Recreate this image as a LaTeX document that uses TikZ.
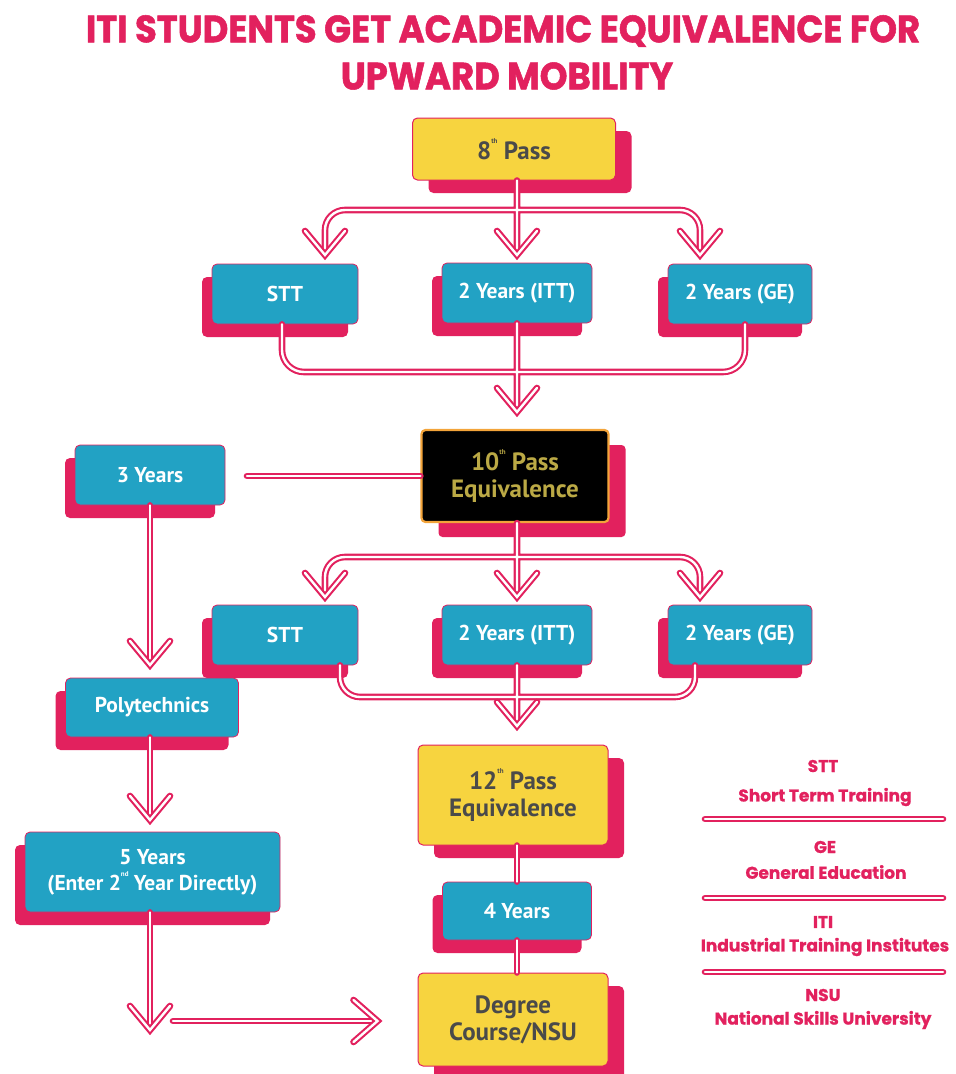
\documentclass[tikz,border=0pt]{standalone}
\usepackage{fontspec}
\usetikzlibrary{shadows,calc}
\newfontfamily\boxfont{PT Sans}
\newfontfamily\titlefont[FakeStretch=0.93,BoldFeatures={FakeBold=1.4}]{Poppins}
\newfontfamily\legfont[BoldFeatures={FakeBold=1}]{Poppins}
\definecolor{pinkc}{HTML}{E2215E}
\definecolor{tealc}{HTML}{22A2C4}
\definecolor{yellowc}{HTML}{F7D43F}
\definecolor{darkc}{HTML}{4A4A4A}
\definecolor{orangec}{HTML}{F3A43A}
\definecolor{olivec}{HTML}{BBA945}
\newcommand\sups[1]{\raisebox{0.62em}{\fontsize{7}{7}\selectfont #1}}
\newcommand\chev[1]{\draw[dbl,line join=miter] ($(#1)+(-20,-24)$) -- (#1) -- ($(#1)+(20,-24)$);}
\newcommand\chevr[1]{\draw[dbl,line join=miter] ($(#1)+(-24,-21)$) -- (#1) -- ($(#1)+(-24,21)$);}
\begin{document}
\begin{tikzpicture}[x=1pt,y=-1pt,
  dbl/.style={draw=pinkc, double=white, line width=2.1pt, double distance=2.4pt, line cap=round, line join=round},
  tbox/.style={rectangle, rounded corners=5pt, fill=tealc, draw=pinkc, line width=0.8pt,
    text=white, font=\boxfont\bfseries\fontsize{21.5}{25}\selectfont, align=center, inner sep=0pt,
    minimum height=60pt, general shadow={fill=pinkc, shadow xshift=-10pt, shadow yshift=-13pt}},
  ybox/.style={rectangle, rounded corners=5pt, fill=yellowc, draw=pinkc, line width=1pt,
    text=darkc, font=\boxfont\bfseries\fontsize{25}{27}\selectfont, align=center, inner sep=0pt,
    general shadow={fill=pinkc, shadow xshift=16pt, shadow yshift=-13pt}},
  bbox/.style={rectangle, rounded corners=4pt, fill=black, draw=orangec, line width=2.2pt,
    text=olivec, font=\boxfont\bfseries\fontsize{25}{27}\selectfont, align=center, inner sep=0pt,
    general shadow={fill=pinkc, shadow xshift=17pt, shadow yshift=-15pt}},
  titlestyle/.style={text=pinkc, font=\titlefont\bfseries\fontsize{38}{42}\selectfont, inner sep=0pt},
  legstyle/.style={text=pinkc, font=\legfont\bfseries\fontsize{17}{20}\selectfont, inner sep=0pt}
]
\useasboundingbox (0,0) rectangle (956,1074);

% title
\node[titlestyle] (title1) at (503,31) {ITI STUDENTS GET ACADEMIC EQUIVALENCE FOR};
\node[titlestyle] (title2) at (507,76) {UPWARD MOBILITY};

% boxes
\node[ybox, minimum width=203pt, minimum height=62pt] (eight) at (514,149) {8\sups{th} Pass};
\node[tbox, minimum width=146pt, minimum height=60pt] (stt1) at (285,294) {STT};
\node[tbox, minimum width=150pt, minimum height=60pt] (itt1) at (517,293) {2 Years (ITT)};
\node[tbox, minimum width=144pt, minimum height=60pt] (ge1) at (740,294) {2 Years (GE)};
\node[bbox, minimum width=187pt, minimum height=92pt] (ten) at (515,476) {10\sups{th} Pass\\Equivalence};
\node[tbox, minimum width=150pt] (three) at (150,475) {3 Years};
\node[tbox, minimum width=146pt] (stt2) at (285,635) {STT};
\node[tbox, minimum width=150pt] (itt2) at (517,635) {2 Years (ITT)};
\node[tbox, minimum width=144pt] (ge2) at (740,635) {2 Years (GE)};
\node[tbox, minimum width=173pt, minimum height=59pt] (poly) at (152,707.5) {Polytechnics};
\node[ybox, minimum width=190pt, minimum height=100pt] (twelve) at (513,795) {12\sups{th} Pass\\Equivalence};
\node[tbox, minimum width=255pt, minimum height=80pt, font=\boxfont\bfseries\fontsize{21.5}{26}\selectfont] (five) at (152.5,872) {5 Years\\(Enter 2\sups{nd} Year Directly)};
\node[tbox, minimum width=149pt, minimum height=58pt] (four) at (517,911) {4 Years};
\node[ybox, minimum width=190pt, minimum height=93pt] (degree) at (513,1019.5) {Degree\\Course/NSU};

% coordinates
\coordinate (h1) at (517,210);
\coordinate (t1a) at (325,255);
\coordinate (t1b) at (517,255);
\coordinate (t1c) at (700,255);
\coordinate (m1) at (517,372);
\coordinate (t1m) at (517,412);
\coordinate (tl) at (247,476);
\coordinate (h2) at (517,557);
\coordinate (t2a) at (325,597);
\coordinate (t2b) at (517,597);
\coordinate (t2c) at (700,597);
\coordinate (m2) at (517,697);
\coordinate (t2m) at (517,726);
\coordinate (tp) at (150,665);
\coordinate (tf) at (150,820);
\coordinate (tb) at (150,1030);
\coordinate (hb) at (173,1021);
\coordinate (tr) at ($(degree.west)+(-40,1.5)$);

% branch 1
\draw[dbl] (eight.south -| h1) -- ($(t1b)+(0,-6)$)
  ($(t1a)+(0,-6)$) [rounded corners=20pt] |- (h1) -| ($(t1c)+(0,-6)$);
\chev{t1a}\chev{t1b}\chev{t1c}
% merge 1
\draw[dbl] (itt1.south) -- ($(t1m)+(0,-6)$)
  ($(stt1.south)+(-3,0)$) [rounded corners=22pt] |- (m1) -| ($(ge1.south)+(5,0)$);
\chev{t1m}
% 10th to 3 years
\draw[dbl] (ten.west) -- (tl);
% branch 2
\draw[dbl] (ten.south -| h2) -- ($(t2b)+(0,-6)$)
  ($(t2a)+(0,-6)$) [rounded corners=20pt] |- (h2) -| ($(t2c)+(0,-6)$);
\chev{t2a}\chev{t2b}\chev{t2c}
% merge 2
\draw[dbl] (itt2.south) -- ($(t2m)+(0,-6)$)
  ($(stt2.south)+(55,0)$) [rounded corners=20pt] |- (m2) -| ($(ge2.south)+(-45,0)$);
\chev{t2m}
% left column
\draw[dbl] (three.south) -- ($(tp)+(0,-6)$);
\chev{tp}
\draw[dbl] (poly.south -| tf) -- ($(tf)+(0,-6)$);
\chev{tf}
\draw[dbl] (five.south -| tb) -- ($(tb)+(0,-6)$);
\chev{tb}
\draw[dbl] (hb) -- ($(tr)+(-6,0)$);
\chevr{tr}
% right column
\draw[dbl] (twelve.south -| four.north) -- (four.north);
\draw[dbl] (four.south) -- (four.south |- degree.north);

% legend
\node[legstyle] (lg1) at (823,766) {STT};
\node[legstyle] (lg1b) at (825,797) {Short Term Training};
\coordinate (la1) at (705,819); \coordinate (lb1) at (943,819);
\draw[dbl] (la1) -- (lb1);
\node[legstyle] (lg2) at (825,847) {GE};
\node[legstyle] (lg2b) at (826,872) {General Education};
\coordinate (la2) at (705,898); \coordinate (lb2) at (943,898);
\draw[dbl] (la2) -- (lb2);
\node[legstyle] (lg3) at (823,922) {ITI};
\node[legstyle] (lg3b) at (825,947) {Industrial Training Institutes};
\coordinate (la3) at (705,972); \coordinate (lb3) at (943,972);
\draw[dbl] (la3) -- (lb3);
\node[legstyle] (lg4) at (823,995) {NSU};
\node[legstyle] (lg4b) at (823,1020) {National Skills University};
\end{tikzpicture}
\end{document}
